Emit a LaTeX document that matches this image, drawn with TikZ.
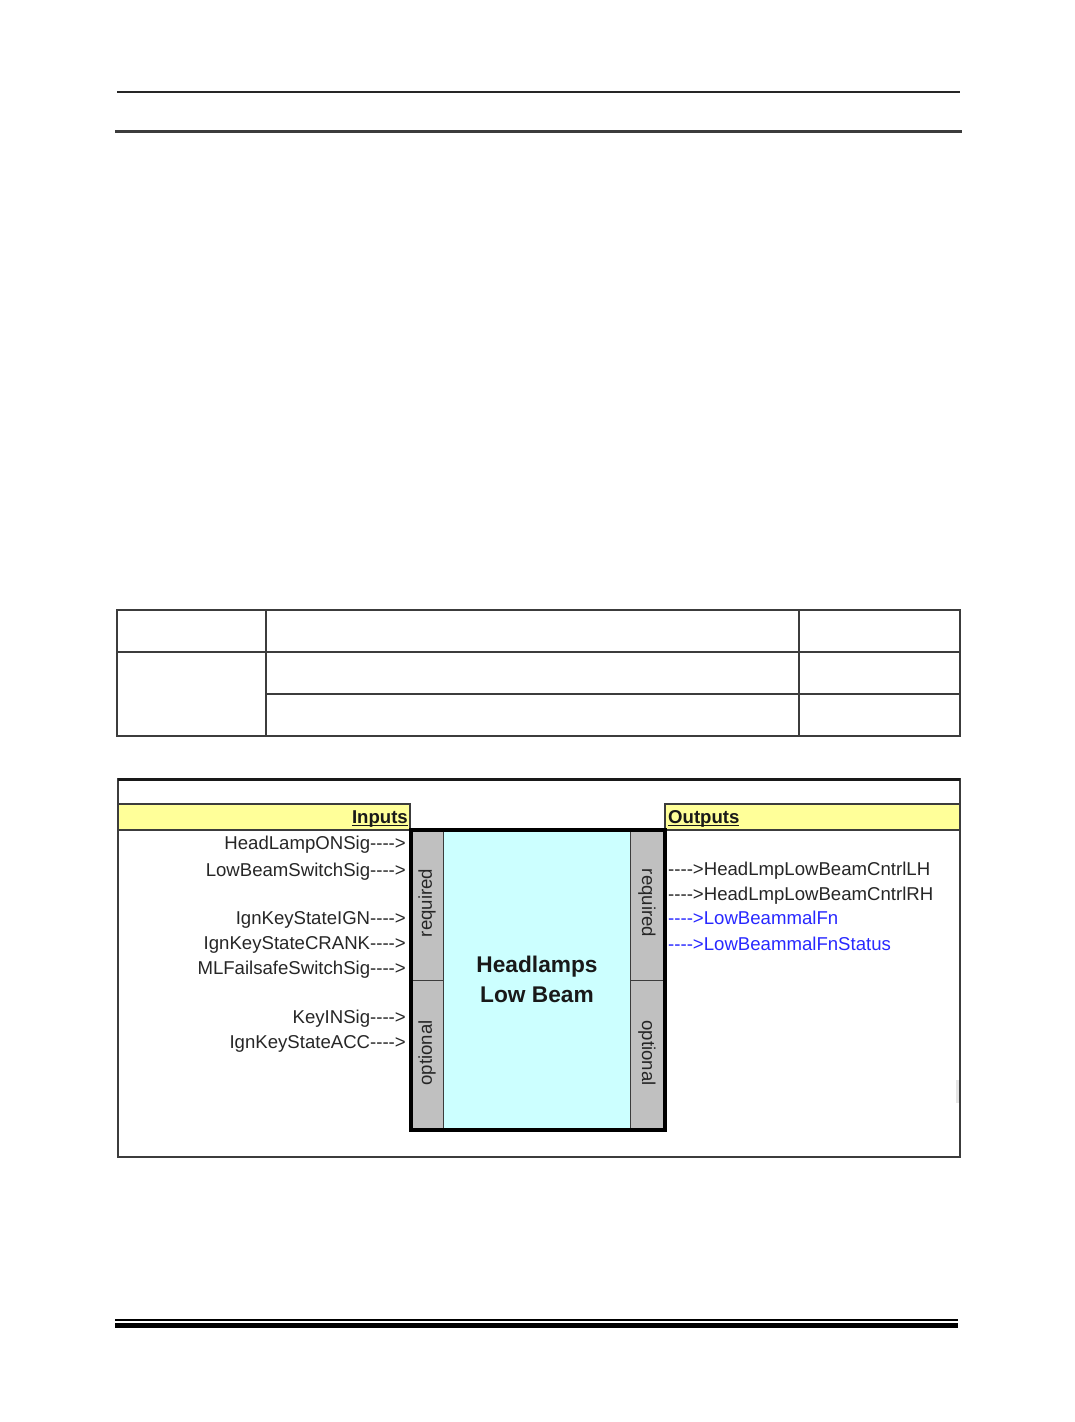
\documentclass[tikz,border=0pt]{standalone}
\usepackage{fontspec}
\setmainfont{Liberation Sans}
\definecolor{hdryellow}{RGB}{255,255,153}
\definecolor{blockcyan}{RGB}{204,255,255}
\definecolor{stripgrey}{RGB}{192,192,192}
\definecolor{sigblue}{RGB}{40,40,255}
\definecolor{rulegrey}{RGB}{60,60,60}
\newcommand{\sigfont}{\fontsize{18.6}{22}\selectfont}
\newcommand{\titlefont}{\fontsize{22.7}{30}\selectfont\bfseries}
\newcommand{\arw}{{-}{-}{-}{-}>}
\begin{document}
\begin{tikzpicture}[x=1pt,y=-1pt,
  inlbl/.style={anchor=base east,inner sep=0pt,font=\sigfont,text=black!85},
  outlbl/.style={anchor=base west,inner sep=0pt,font=\sigfont,text=black!85},
  bluelbl/.style={outlbl,text=sigblue},
  striplbl/.style={inner sep=0pt,font=\sigfont,text=black!85},
  hdrlbl/.style={inner sep=0pt,font=\sigfont\bfseries,text=black!90},
  thinrule/.style={line width=1.3pt,draw=rulegrey}]
\useasboundingbox (0,0) rectangle (1075,1422);
% page header rules
\draw[line width=1.5pt,draw=black!85] (117,92) -- (960,92);
\draw[line width=2.5pt,draw=rulegrey] (115,131.5) -- (962,131.5);
% table
\draw[thinrule] (117,610) rectangle (960,736);
\draw[thinrule] (117,652) -- (960,652);
\draw[thinrule] (266,694) -- (960,694);
\draw[thinrule] (266,610) -- (266,736);
\draw[thinrule] (799,610) -- (799,736);
% headers
\fill[hdryellow] (118,804) rectangle (410,830);
\draw[line width=1.2pt,draw=rulegrey] (118,804) -- (410,804) -- (410,830) -- (118,830);
\fill[hdryellow] (665,804) rectangle (958.5,830);
\draw[line width=1.2pt,draw=rulegrey] (959,804) -- (665,804) -- (665,830) -- (959,830);
\node[hdrlbl,anchor=base east] (inhdr) at (408,823) {Inputs};
\node[hdrlbl,anchor=base west] (outhdr) at (668,823) {Outputs};
\draw[line width=1.4pt,draw=black!90] ([yshift=-2.2pt]inhdr.base west) -- ([yshift=-2.2pt]inhdr.base east);
\draw[line width=1.4pt,draw=black!90] ([yshift=-2.2pt]outhdr.base west) -- ([yshift=-2.2pt,xshift=-1pt]outhdr.base east);
% diagram frame
\draw[line width=1.5pt,draw=rulegrey] (118,779) rectangle (960,1157);
\draw[line width=3pt,draw=black!90] (118,779) -- (960,779);
% block
\fill[blockcyan] (443,831) rectangle (630,1129);
\fill[stripgrey] (412,831) rectangle (443,1129);
\fill[stripgrey] (630,831) rectangle (664,1129);
\draw[line width=1pt,draw=rulegrey] (443,831) -- (443,1129);
\draw[line width=1pt,draw=rulegrey] (630,831) -- (630,1129);
\draw[line width=1pt,draw=rulegrey] (412,980) -- (443,980);
\draw[line width=1pt,draw=rulegrey] (630,980) -- (664,980);
\draw[line width=4pt,draw=black] (411,830) rectangle (665,1130);
\node[striplbl,rotate=90] (lreq) at (427,903) {required};
\node[striplbl,rotate=90] (lopt) at (427,1053) {optional};
\node[striplbl,rotate=-90] (rreq) at (647,903) {required};
\node[striplbl,rotate=-90] (ropt) at (647,1053) {optional};
\node[font=\titlefont,align=center,inner sep=0pt,text=black!90] (title) at (537,979) {Headlamps\\Low Beam};
% inputs
\node[inlbl] (i1) at (406,849.5) {HeadLampONSig\arw};
\node[inlbl] (i2) at (406,876.5) {LowBeamSwitchSig\arw};
\node[inlbl] (i3) at (406,924.5) {IgnKeyStateIGN\arw};
\node[inlbl] (i4) at (406,949.5) {IgnKeyStateCRANK\arw};
\node[inlbl] (i5) at (406,974.5) {MLFailsafeSwitchSig\arw};
\node[inlbl] (i6) at (406,1023.5) {KeyINSig\arw};
\node[inlbl] (i7) at (406,1048.5) {IgnKeyStateACC\arw};
% outputs
\node[outlbl] (o1) at (668,875.5) {\arw HeadLmpLowBeamCntrlLH};
\node[outlbl] (o2) at (668,900.5) {\arw HeadLmpLowBeamCntrlRH};
\node[bluelbl] (o3) at (668,924.5) {\arw LowBeammalFn};
\node[bluelbl] (o4) at (668,950.5) {\arw LowBeammalFnStatus};
% small grey mark
\fill[black!10] (955.5,1080) rectangle (958.5,1103);
% footer rules
\draw[line width=1.5pt,draw=black] (115,1320) -- (958,1320);
\draw[line width=5pt,draw=black] (115,1325.5) -- (958,1325.5);
\end{tikzpicture}
\end{document}
